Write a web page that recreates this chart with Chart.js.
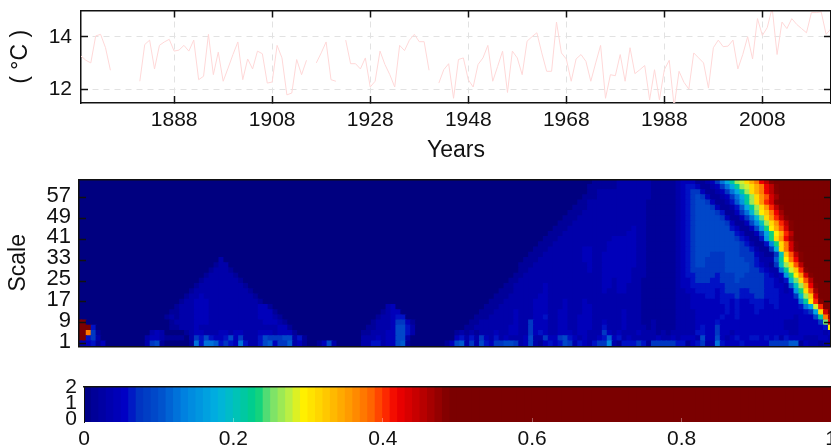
<!DOCTYPE html>
<html>
<head>
<meta charset="utf-8">
<title>Temperature and wavelet p-values</title>
<script src="https://cdn.jsdelivr.net/npm/chart.js@4"></script>
<style>
    html, body { margin: 0; padding: 0; background: #fff; overflow: hidden; }
    canvas { position: absolute; left: 0; top: 0; }
</style>
</head>
<body>
<canvas id="lineChart" width="831" height="447"></canvas>
<canvas id="heatChart" width="831" height="447"></canvas>
<canvas id="barChart" width="831" height="447"></canvas>
<script>
const years = [
    1869, 1870, 1871, 1872, 1873, 1874, 1875, 1876, 1877, 1878,
    1879, 1880, 1881, 1882, 1883, 1884, 1885, 1886, 1887, 1888,
    1889, 1890, 1891, 1892, 1893, 1894, 1895, 1896, 1897, 1898,
    1899, 1900, 1901, 1902, 1903, 1904, 1905, 1906, 1907, 1908,
    1909, 1910, 1911, 1912, 1913, 1914, 1915, 1916, 1917, 1918,
    1919, 1920, 1921, 1922, 1923, 1924, 1925, 1926, 1927, 1928,
    1929, 1930, 1931, 1932, 1933, 1934, 1935, 1936, 1937, 1938,
    1939, 1940, 1941, 1942, 1943, 1944, 1945, 1946, 1947, 1948,
    1949, 1950, 1951, 1952, 1953, 1954, 1955, 1956, 1957, 1958,
    1959, 1960, 1961, 1962, 1963, 1964, 1965, 1966, 1967, 1968,
    1969, 1970, 1971, 1972, 1973, 1974, 1975, 1976, 1977, 1978,
    1979, 1980, 1981, 1982, 1983, 1984, 1985, 1986, 1987, 1988,
    1989, 1990, 1991, 1992, 1993, 1994, 1995, 1996, 1997, 1998,
    1999, 2000, 2001, 2002, 2003, 2004, 2005, 2006, 2007, 2008,
    2009, 2010, 2011, 2012, 2013, 2014, 2015, 2016, 2017, 2018,
    2019, 2020, 2021, 2022
];

const temperatures = [
    13.26, 13.10, 13.00, 14.03, 14.09, 13.58, 12.72, null, null, null,
    null, null, 12.30, 13.70, 13.87, 12.77, 13.67, 13.80, 13.90, 13.45,
    13.49, 13.67, 13.45, 13.87, 12.36, 12.49, 14.09, 12.55, 13.41, 12.30,
    12.80, 13.32, 13.80, 12.36, 13.15, 12.77, 13.45, 13.35, 12.23, 12.27,
    13.67, 13.19, 11.78, 11.85, 13.13, 12.55, 13.10, null, 13.00, 13.38,
    13.80, 12.36, 12.30, null, 13.87, 12.97, 12.97, 12.77, 13.19, 12.08,
    12.30, 13.45, 12.94, 12.55, 12.08, 13.67, 13.47, 13.87, 14.09, 13.81,
    13.81, 12.72, null, 12.23, 12.74, 12.97, 11.65, 13.13, 13.19, 12.36,
    12.08, 12.94, 13.19, 13.67, 12.30, 12.87, 13.45, 11.87, 13.45, 13.19,
    12.55, 13.83, 14.00, 14.15, 13.38, 12.68, 12.68, 14.56, 13.38, 13.15,
    12.30, 13.15, 13.32, 13.06, 12.30, 13.00, 13.67, 11.65, 12.55, 12.51,
    13.32, 12.30, 13.58, 12.59, 12.74, 12.90, 11.59, 12.74, 11.59, 12.74,
    13.10, 11.33, 12.68, 12.26, 12.00, 13.38, 13.19, 13.00, 12.04, 13.58,
    13.87, 13.62, 13.64, 13.87, 12.77, 13.32, 14.00, 13.15, 14.69, 14.05,
    14.35, 15.10, 13.32, 14.56, 14.31, 14.69, 14.47, 14.31, 14.15, 14.92,
    14.92, 14.95, 14.09, 14.31
];

const yearTicks = [1888, 1908, 1928, 1948, 1968, 1988, 2008];
const tempTicks = [12, 14];
const scaleTicks = [1, 9, 17, 25, 33, 41, 49, 57];
const colorbarXTicks = [0, 0.2, 0.4, 0.6, 0.8, 1];
const colorbarYTicks = [0, 1, 2];

// one string per scale band, top band first, one character per year.
// rows are right aligned, anything missing on the left is 0
// the characters are levels 0..w, where w means p >= 0.5
const pLevelChars = "0123456789abcdefghijklmnopqrstuvw";
const scaleBandSpan = 2;
const pRows = [
    "0000000000 0000011111 2222222111 1123331123 58behikmor tvwwwwwwww wwww",
    "0000000000 0000111111 2222222111 1123443112 358behikmo rtvwwwwwww wwww",
    "0000000000 0000112222 2222222111 1123455311 2358behkmo rtvwwwwwww wwww",
    "0000000000 0001112222 2222222111 1123456531 12358behkn psuwwwwwww wwww",
    "0000000000 0011222222 2222221111 1123456653 11247aehkn qsvwwwwwww wwww",
    "0000000000 0111222222 2222221111 1123456665 311247behk nqtvwwwwww wwww",
    "0000000000 1112222222 2222221111 1123456666 5411358cgj loruwwwwww wwww",
    "0000000001 1122222222 2222221111 1123456666 65311358cg knqtvwwwww wwww",
    "0000000011 1222222222 2222221111 1123456666 665311369d hknqtvwwww wwww",
    "0000000111 2222222222 2223221111 1123456666 666431136a fjmpsvwwww wwww",
    "0000001112 2222222222 2233221111 1123456666 6666431136 bfjmqtwwww wwww",
    "0000011122 2222222223 3333221111 1123456666 6666543114 afknruwwww wwww",
    "0000111222 2222222233 3333221111 1123456666 6666654211 49fkosvwww wwww",
    "0001112222 2223322233 3333221111 1123456666 6666655421 15ckosvwww wwww",
    "0011122222 2223322333 3333221111 1123456665 5566655532 115dlptvww wwww",
    "0000000002 0000000000 0000000000 0000000000 0000000000 0000000000 0000000000 0111222222 2223322333 3333221111 1123456655 5566665542 227ejorvww wwww",
    "0000000012 2000000000 0000000000 0000000000 0000000000 0000000000 0000000000 1112222222 2222322333 3333221111 1123456655 5566666543 215dhkptww wwww",
    "0000000122 2100000000 0000000000 0000000000 0000000000 0000000000 0000000000 1122222222 2222322333 3332221111 1123455555 5566666554 3228eilqvw wwww",
    "0000001222 2210000000 0000000000 0000000000 0000000000 0000000000 0000000001 1222222222 2222222333 3332221111 1123445555 4555665555 4323afjnsv wwww",
    "0000012222 2221000000 0000000000 0000000000 0000000000 0000000000 0000000011 2222222222 2222222332 3332211111 1123345554 4555655555 44324cgkpt wwww",
    "0000122222 2222100000 0000000000 0000000000 0000000000 0000000000 0000000112 2222232222 2222222332 3322211111 1123344444 4455555555 443327dhmr vwww",
    "0001222222 2222210000 0000000000 0000000000 0000000000 0000000000 0000001112 2222232222 2222222322 3322211111 1122334444 3455544555 444323afkp uwww",
    "0012232222 2222221000 0000000000 0000000000 0000000000 0000000000 0000011122 2222332222 2222222222 2222211111 1122233344 3444544455 4443335chl swww",
    "0122333222 2222222100 0000000000 0000000000 0000000000 0000000000 0000111222 2223332223 2223222222 2222211111 1122233333 3443433444 34433338ej qvww",
    "1222333222 2222222331 0000000000 0000000000 0002300000 0000000000 0001112222 2223332223 2223322222 2222211111 1122233333 3343433344 334333348b iqww",
    "0000000001 1222333222 2222222333 1000000000 0000000000 0012330000 0000000000 0011122223 2223332233 2223322222 2322211111 1122223333 3343433343 3333333345 bksw",
    "0000000012 1222333222 2222222333 2100000000 0000000000 0122344000 0000000000 0111222223 2223342233 2233322222 2322211111 1122223333 3433433333 3333332333 6eou",
    "ww00000000 0000000001 2222333222 2222222233 3210000000 0000000000 1222355310 0000000000 1122222223 2253332233 2233322322 2322211211 1122223333 4333333333 3333222333 35gr",
    "www4000000 0000000001 1222322222 2222222222 2331000000 0000000001 1222366420 0000000001 1222222233 2253332233 2233322422 2322221211 1122223433 5333333333 3333222333 334j",
    "wwo5100000 0000023200 0012332223 3233222333 2333100000 0000000011 2223366420 0000000121 2122232233 2253432233 3233222532 3222322212 1222224433 5332333333 3333322333 3323",
    "ww45200000 0000233211 1102546433 4635222465 5566241000 0000000022 2323366200 0000000342 4253242322 2362253356 4323223473 4232222232 2323332633 6323433443 4342433322 2332",
    "2234130000 0000256100 0001848874 5438422467 3557231001 3620000022 4423367100 0000013672 5264355665 2362134346 5243245592 1444541555 5544134522 8433343333 3555577132 2122"
];

const colorbarSteps = [
    0.005, 0.015, 0.025, 0.035, 0.045, 0.055, 0.065, 0.075, 0.085, 0.095,
    0.105, 0.115, 0.125, 0.135, 0.145, 0.155, 0.165, 0.175, 0.185, 0.195,
    0.205, 0.215, 0.225, 0.235, 0.245, 0.255, 0.265, 0.275, 0.285, 0.295,
    0.305, 0.315, 0.325, 0.335, 0.345, 0.355, 0.365, 0.375, 0.385, 0.395,
    0.405, 0.415, 0.425, 0.435, 0.445, 0.455, 0.465, 0.475, 0.485, 0.495,
    0.505, 0.515, 0.525, 0.535, 0.545, 0.555, 0.565, 0.575, 0.585, 0.595,
    0.605, 0.615, 0.625, 0.635, 0.645, 0.655, 0.665, 0.675, 0.685, 0.695,
    0.705, 0.715, 0.725, 0.735, 0.745, 0.755, 0.765, 0.775, 0.785, 0.795,
    0.805, 0.815, 0.825, 0.835, 0.845, 0.855, 0.865, 0.875, 0.885, 0.895,
    0.905, 0.915, 0.925, 0.935, 0.945, 0.955, 0.965, 0.975, 0.985, 0.995
];

// colour map
const mapStops = [0, 0.016, 0.045, 0.058, 0.071, 0.103, 0.134, 0.179, 0.2, 0.232, 0.25, 0.277, 0.295, 0.32, 0.357, 0.384, 0.402, 0.42, 0.45, 0.49];
const mapColors = [
    [0, 0, 128], [0, 0, 154], [0, 0, 184], [0, 0, 200], [0, 48, 192], [0, 80, 204], [0, 128, 224],
    [0, 176, 224], [0, 192, 192], [0, 208, 128], [112, 224, 112], [192, 240, 64], [255, 240, 0],
    [255, 208, 0], [255, 152, 0], [255, 104, 0], [255, 48, 0], [240, 0, 0], [192, 0, 0], [123, 0, 0]
];

const FONT = { family: "'Liberation Sans', Arial, sans-serif", size: 21 };
const TITLE_FONT = { family: "'Liberation Sans', Arial, sans-serif", size: 23 };
const INK = "#111";

Chart.defaults.color = INK;
Chart.defaults.font = FONT;
Chart.defaults.animation = false;
Chart.defaults.responsive = false;
Chart.defaults.events = [];
Chart.defaults.plugins.legend.display = false;
Chart.defaults.plugins.tooltip.enabled = false;

function mapColor(p) {
    let i = 0;
    while (i < mapStops.length - 2 && p > mapStops[i + 1]) {
        i++;
    }
    const t = Math.max(0, Math.min(1, (p - mapStops[i]) / (mapStops[i + 1] - mapStops[i])));
    const rgb = mapColors[i].map((c, k) => Math.round(c + t * (mapColors[i + 1][k] - c)));
    return `rgb(${rgb[0]},${rgb[1]},${rgb[2]})`;
}

function levelColor(ch) {
    return mapColor(pLevelChars.indexOf(ch) / 64);
}

function setTicks(values) {
    return (scale) => {
        scale.ticks = values.map((value) => ({ value: value }));
    };
}

function clearPadding(scale) {
    scale.paddingTop = 0;
    scale.paddingBottom = 0;
    scale.paddingLeft = 0;
    scale.paddingRight = 0;
}

function fixWidth(w) {
    return (scale) => {
        scale.width = w;
        clearPadding(scale);
    };
}

function fixHeight(h) {
    return (scale) => {
        scale.height = h;
        clearPadding(scale);
    };
}

// an axis that only draws its inward tick marks on the opposite side of the plot
function markAxis(position, min, max, values, tickLen) {
    return {
        position: position,
        type: "linear",
        min: min,
        max: max,
        offset: false,
        grid: {
            offset: false,
            drawOnChartArea: false,
            tickLength: tickLen,
            tickColor: INK,
            tickWidth: 1.5,
            z: 1
        },
        border: { color: INK, width: 1.5, z: 1 },
        ticks: { display: false },
        afterBuildTicks: setTicks(values),
        afterFit: position === "top" || position === "bottom" ? fixHeight(0) : fixWidth(0)
    };
}

const dashedGrid = {
    color: "#e2e2e2",
    lineWidth: 1,
    tickColor: INK,
    tickWidth: 1.5,
    tickBorderDash: [],
    tickLength: -7
};

// temperature line
new Chart(document.getElementById("lineChart"), {
    type: "line",
    data: {
        datasets: [{
            data: years.map((year, i) => ({ x: year, y: temperatures[i] })),
            borderColor: "#ffd8d8",
            borderWidth: 1,
            pointRadius: 0,
            tension: 0,
            spanGaps: false
        }]
    },
    options: {
        layout: { autoPadding: false, padding: { left: 0, right: 0, top: 10.5, bottom: 282 } },
        scales: {
            x: {
                type: "linear",
                min: 1869,
                max: 2022,
                grid: dashedGrid,
                border: { color: INK, width: 1.5, dash: [6, 5] },
                ticks: { padding: 12, autoSkip: false, maxRotation: 0, callback: (v) => String(v) },
                afterBuildTicks: setTicks(yearTicks),
                afterFit: fixHeight(62),
                title: { display: true, text: "Years", font: TITLE_FONT, padding: { top: 0, bottom: 1 } }
            },
            x2: markAxis("top", 1869, 2022, yearTicks, -7),
            y: {
                type: "linear",
                min: 11.47,
                max: 15,
                grid: dashedGrid,
                border: { color: INK, width: 1.5, dash: [6, 5] },
                ticks: { padding: 16, autoSkip: false, callback: (v) => String(v) },
                afterBuildTicks: setTicks(tempTicks),
                afterFit: fixWidth(81),
                title: { display: true, text: "( °C )", font: TITLE_FONT, padding: { top: 7, bottom: 0 } }
            },
            y2: markAxis("right", 11.47, 15, tempTicks, -7)
        }
    }
});

// wavelet p-value map, stacked bars with one stack per year
const paddedRows = pRows.map((row) => row.replace(/ /g, "").padStart(years.length, "0"));

new Chart(document.getElementById("heatChart"), {
    type: "bar",
    data: {
        datasets: paddedRows.slice().reverse().map((row) => ({
            data: years.map((year) => ({ x: year, y: scaleBandSpan })),
            backgroundColor: row.split("").map(levelColor),
            borderWidth: 0,
            inflateAmount: 0.6,
            barPercentage: 1,
            categoryPercentage: 1
        }))
    },
    options: {
        layout: { autoPadding: false, padding: { left: 0, right: 0, top: 179.3, bottom: 100.7 } },
        scales: {
            x: {
                type: "linear",
                stacked: true,
                min: 1869,
                max: 2022,
                offset: false,
                grid: { offset: false, display: false },
                border: { color: INK, width: 1.5, z: 1 },
                ticks: { display: false },
                afterFit: fixHeight(0)
            },
            x2: markAxis("top", 1869, 2022, [], 0),
            y: {
                type: "linear",
                stacked: true,
                min: 0,
                max: 64,
                grid: {
                    drawOnChartArea: false,
                    tickLength: -7,
                    tickColor: INK,
                    tickWidth: 1.5,
                    z: 1
                },
                border: { color: INK, width: 1.5, z: 1 },
                ticks: { padding: 15, labelOffset: -2, autoSkip: false, font: { size: 22 }, callback: (v) => String(v) },
                afterBuildTicks: setTicks(scaleTicks),
                afterFit: fixWidth(79),
                title: { display: true, text: "Scale", font: TITLE_FONT, padding: { top: 5, bottom: 0 } }
            },
            y2: markAxis("right", 0, 64, scaleTicks, -7)
        }
    }
});

// colour bar, same colour map as the p-value map
const colorbarFloor = -0.19;

new Chart(document.getElementById("barChart"), {
    type: "bar",
    data: {
        datasets: [{
            data: colorbarSteps.map((p) => ({ x: p, y: [colorbarFloor, 2] })),
            backgroundColor: colorbarSteps.map(mapColor),
            borderWidth: 0,
            inflateAmount: 0.6,
            barPercentage: 1,
            categoryPercentage: 1
        }]
    },
    options: {
        layout: { autoPadding: false, padding: { left: 0, right: 0, top: 387, bottom: 0 } },
        scales: {
            x: {
                type: "linear",
                min: 0,
                max: 1,
                offset: false,
                grid: {
                    offset: false,
                    drawOnChartArea: false,
                    tickLength: -4,
                    tickColor: "rgba(255,255,255,0.35)",
                    z: 1
                },
                border: { display: false },
                ticks: { padding: 9, autoSkip: false, maxRotation: 0, callback: (v) => String(v) },
                afterBuildTicks: setTicks(colorbarXTicks),
                afterFit: fixHeight(25)
            },
            x2: markAxis("top", 0, 1, [], 0),
            y: {
                type: "linear",
                min: colorbarFloor,
                max: 2,
                grid: { drawOnChartArea: false, drawTicks: false },
                border: { color: INK, width: 1, z: 1 },
                ticks: { padding: 7, autoSkip: false, callback: (v) => String(v) },
                afterBuildTicks: setTicks(colorbarYTicks),
                afterFit: fixWidth(84)
            }
        }
    }
});
</script>
</body>
</html>
